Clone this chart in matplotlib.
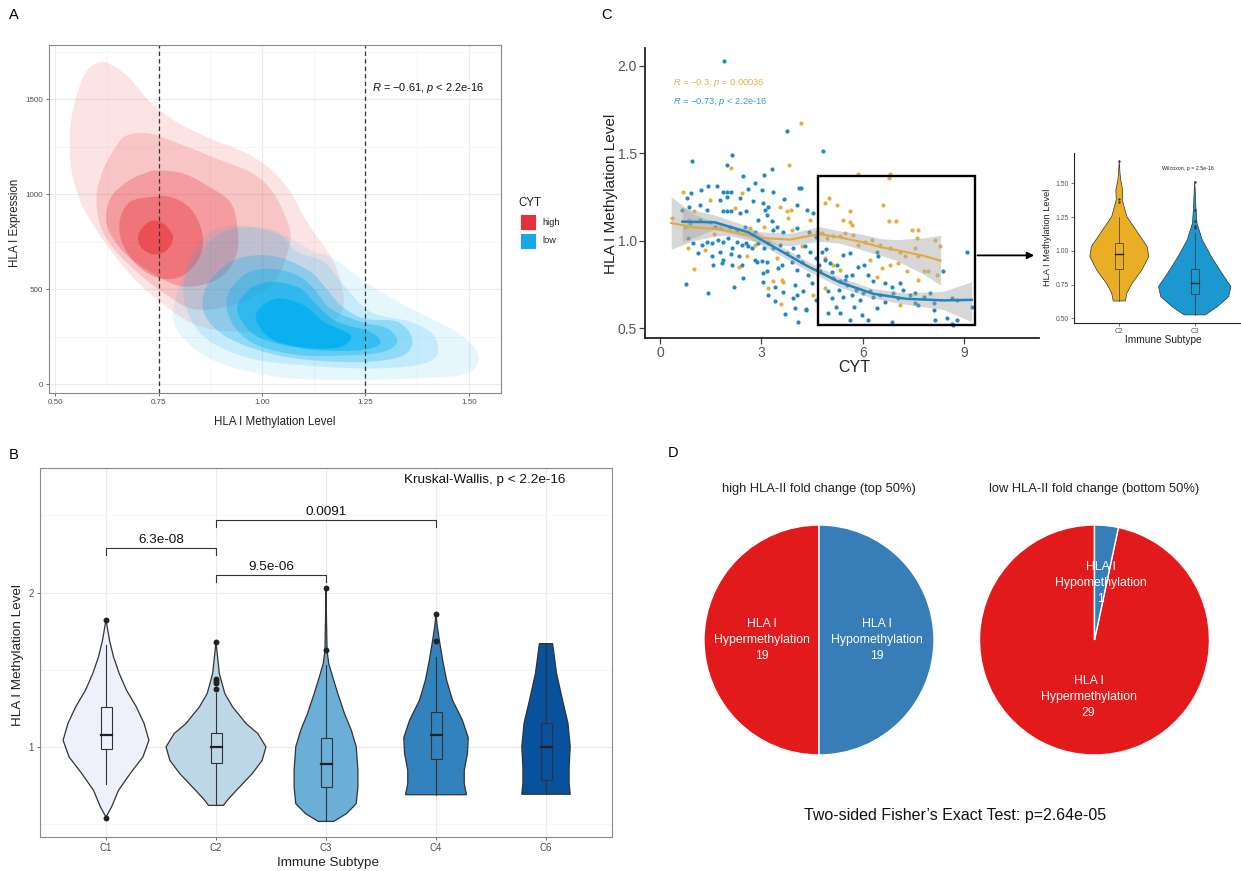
import numpy as np
import matplotlib
matplotlib.use('Agg')
import matplotlib.pyplot as plt
from matplotlib.patches import Rectangle, PathPatch
from matplotlib.path import Path

plt.rcParams['font.family'] = ['Liberation Sans', 'DejaVu Sans']
plt.rcParams['mathtext.fontset'] = 'custom'
plt.rcParams['mathtext.it'] = 'Liberation Sans:italic'
plt.rcParams['mathtext.rm'] = 'Liberation Sans'

# ---------------- data ----------------
# A: 2D density contours (methylation, expression), outer -> inner
red_1 = [(0.617, 1695), (0.673, 1625), (0.730, 1484), (0.794, 1379), (0.875, 1292), (0.956, 1222),
         (1.020, 1134), (1.069, 1011), (1.109, 853), (1.173, 643), (1.198, 450), (1.181, 345),
         (1.117, 293), (1.036, 275), (0.940, 275), (0.867, 293), (0.810, 345), (0.754, 433),
         (0.690, 556), (0.625, 731), (0.569, 924), (0.540, 1116), (0.536, 1344), (0.552, 1520), (0.577, 1651)]
red_2 = [(0.673, 1309), (0.730, 1318), (0.810, 1257), (0.891, 1186), (0.972, 1116), (1.020, 1029),
         (1.052, 906), (1.069, 766), (1.036, 556), (0.972, 450), (0.891, 398), (0.827, 398),
         (0.770, 468), (0.706, 573), (0.641, 713), (0.609, 836), (0.600, 994), (0.617, 1134), (0.649, 1257)]
red_3 = [(0.746, 1125), (0.810, 1108), (0.867, 1046), (0.923, 959), (0.940, 836), (0.940, 696),
         (0.907, 573), (0.851, 520), (0.794, 520), (0.730, 591), (0.665, 696), (0.625, 836),
         (0.633, 976), (0.673, 1064), (0.714, 1108)]
red_4 = [(0.730, 985), (0.778, 985), (0.827, 924), (0.855, 801), (0.851, 678), (0.810, 573),
         (0.754, 556), (0.698, 626), (0.661, 748), (0.657, 871), (0.681, 959)]
red_5 = [(0.730, 857), (0.762, 845), (0.785, 775), (0.770, 705), (0.738, 682), (0.707, 722), (0.702, 792)]

blue_1 = [(0.875, 801), (0.940, 836), (1.004, 810), (1.069, 766), (1.125, 696), (1.173, 661),
          (1.262, 520), (1.359, 398), (1.456, 293), (1.516, 188), (1.520, 100), (1.480, 47),
          (1.375, 30), (1.214, 21), (1.069, 30), (0.972, 65), (0.891, 117), (0.827, 205),
          (0.786, 328), (0.794, 468), (0.819, 626), (0.843, 731)]
blue_2 = [(0.810, 520), (0.851, 696), (0.907, 801), (0.972, 827), (1.036, 801), (1.085, 696),
          (1.149, 643), (1.198, 520), (1.262, 380), (1.359, 328), (1.415, 258), (1.423, 152),
          (1.375, 100), (1.254, 82), (1.093, 100), (0.972, 135), (0.875, 223), (0.827, 345)]
blue_3 = [(0.867, 520), (0.923, 643), (0.988, 678), (1.052, 661), (1.117, 591), (1.149, 520),
          (1.190, 415), (1.246, 345), (1.327, 328), (1.363, 240), (1.343, 152), (1.254, 117),
          (1.117, 126), (1.004, 170), (0.907, 258), (0.859, 380)]
blue_4 = [(0.915, 450), (0.956, 573), (1.020, 608), (1.085, 573), (1.125, 503), (1.165, 398),
          (1.238, 328), (1.303, 293), (1.327, 223), (1.294, 170), (1.214, 152), (1.093, 152),
          (0.988, 205), (0.931, 310)]
blue_5 = [(0.940, 398), (0.972, 503), (1.028, 538), (1.093, 503), (1.133, 415), (1.181, 328),
          (1.262, 275), (1.286, 214), (1.238, 179), (1.133, 179), (1.036, 214), (0.972, 275)]
blue_6 = [(0.988, 380), (1.036, 450), (1.101, 415), (1.149, 328), (1.214, 258), (1.190, 196),
          (1.117, 188), (1.036, 223), (0.996, 293)]

# B: violins per immune subtype (y, half-width) + box stats
subtypes_B = ['C1', 'C2', 'C3', 'C4', 'C6']
vy_C1 = [0.545, 0.61, 0.719, 0.827, 0.935, 1.043, 1.152, 1.26, 1.368, 1.476, 1.584, 1.69, 1.823]
vw_C1 = [0.0, 0.05, 0.114, 0.22, 0.336, 0.39, 0.346, 0.275, 0.186, 0.12, 0.068, 0.032, 0.0]
vy_C2 = [0.621, 0.66, 0.719, 0.827, 0.913, 1.0, 1.087, 1.15, 1.26, 1.346, 1.476, 1.58, 1.677]
vw_C2 = [0.068, 0.11, 0.186, 0.33, 0.42, 0.454, 0.38, 0.275, 0.15, 0.08, 0.03, 0.015, 0.0]
vy_C3 = [0.517, 0.567, 0.632, 0.74, 0.85, 1.0, 1.108, 1.216, 1.346, 1.455, 1.54, 1.62, 1.8, 2.032]
vw_C3 = [0.07, 0.186, 0.275, 0.29, 0.29, 0.275, 0.23, 0.168, 0.107, 0.06, 0.025, 0.01, 0.005, 0.0]
vy_C4 = [0.69, 0.762, 0.848, 0.957, 1.06, 1.173, 1.303, 1.433, 1.563, 1.693, 1.78, 1.859]
vw_C4 = [0.277, 0.257, 0.257, 0.286, 0.293, 0.24, 0.15, 0.096, 0.06, 0.03, 0.012, 0.0]
vy_C6 = [0.693, 0.762, 0.87, 1.0, 1.152, 1.303, 1.476, 1.669]
vw_C6 = [0.22, 0.21, 0.21, 0.22, 0.2, 0.15, 0.096, 0.06]
q1_B = [0.983, 0.896, 0.74, 0.92, 0.788]
med_B = [1.076, 0.996, 0.892, 1.076, 1.0]
q3_B = [1.26, 1.087, 1.058, 1.227, 1.152]
wlo_B = [0.76, 0.621, 0.517, 0.69, 0.693]
whi_B = [1.66, 1.35, 1.53, 1.58, 1.669]
out_B = [[1.823, 0.54], [1.677, 1.44, 1.43, 1.415, 1.375], [2.032, 1.626], [1.859, 1.686], []]
colors_B = ['#EEF0FB', '#BDD7E7', '#6BAED6', '#3182BD', '#08519C']
brackets_B = [(1, 2, 2.288, '6.3e-08'), (2, 3, 2.115, '9.5e-06'), (2, 4, 2.472, '0.0091')]

# C: scatter CYT vs methylation (C2 orange, C3 blue)
orange_x = [2.09, 3.82, 0.69, 2.42, 4.17, 5.87, 6.80, 6.78, 1.48, 3.55, 3.75, 3.87, 2.22, 0.35, 3.80,
            0.74, 1.78, 2.66, 3.08, 3.90, 0.84, 1.33, 2.81, 2.56, 3.45, 2.35, 1.01, 3.60, 3.65, 3.20,
            3.58, 5.01, 5.23, 5.62, 6.61, 5.42, 5.62, 5.67, 6.78, 6.98, 4.88, 4.64, 4.78, 4.93, 5.13,
            5.33, 5.47, 5.72, 5.87, 6.07, 6.26, 6.51, 6.80, 7.10, 7.45, 7.64, 7.59, 7.54, 7.64, 8.14,
            8.28, 7.25, 6.80, 7.05, 7.30, 6.56, 6.21, 6.41, 7.64, 7.94, 8.19, 7.81, 5.33, 5.13, 4.88,
            4.54, 4.88, 7.10, 0.85, 1.60, 2.90, 4.20, 4.45, 1.00, 3.35]
orange_y = [1.414, 1.433, 1.280, 1.274, 1.674, 1.379, 1.379, 1.357, 1.233, 1.194, 1.170, 1.175, 1.185,
            1.131, 1.128, 1.080, 1.071, 1.071, 1.080, 1.061, 0.957, 0.947, 0.975, 0.909, 0.899, 0.851,
            0.838, 0.775, 0.762, 0.728, 0.636, 1.242, 1.204, 1.170, 1.204, 1.118, 1.108, 1.090, 1.113,
            1.113, 1.214, 1.051, 1.042, 1.014, 1.023, 1.023, 1.042, 1.033, 0.975, 0.994, 1.004, 0.975,
            0.957, 0.937, 1.061, 1.061, 1.017, 0.957, 0.909, 1.004, 0.966, 0.909, 0.861, 0.871, 0.823,
            0.842, 0.889, 0.794, 0.775, 0.823, 0.804, 0.823, 0.833, 0.861, 0.899, 0.690, 0.728, 0.633,
            1.120, 1.040, 1.020, 0.970, 1.120, 1.170, 0.770]
blue_x = [1.90, 3.75, 0.96, 2.12, 1.97, 3.31, 3.09, 2.46, 2.81, 1.43, 1.68, 1.21, 0.92, 1.87, 1.97,
          2.09, 2.61, 3.01, 3.33, 4.12, 4.81, 4.17, 0.79, 0.87, 1.78, 1.99, 2.37, 2.74, 3.04, 3.11,
          3.20, 3.67, 4.04, 1.18, 1.38, 0.64, 1.85, 1.99, 2.09, 2.37, 2.54, 3.16, 2.91, 3.30, 3.47,
          0.89, 1.18, 1.48, 1.63, 2.07, 2.27, 2.51, 2.81, 3.35, 3.65, 4.04, 0.84, 0.99, 1.23, 1.38,
          1.53, 1.72, 1.85, 2.02, 2.12, 2.27, 2.42, 2.54, 2.61, 2.71, 2.91, 3.08, 3.20, 3.35, 3.55,
          3.75, 3.94, 4.09, 1.13, 1.53, 1.78, 1.87, 2.09, 2.35, 2.81, 2.88, 3.01, 3.16, 3.60, 3.90,
          4.04, 1.58, 1.82, 2.12, 2.42, 3.16, 3.04, 3.50, 2.45, 0.77, 2.20, 3.06, 3.40, 3.99, 1.41,
          3.20, 3.65, 4.04, 3.40, 3.94, 3.99, 4.09, 4.52, 4.34, 4.29, 4.44, 4.19, 4.39, 4.24, 4.32,
          4.78, 4.88, 4.73, 5.03, 5.23, 5.42, 5.62, 5.13, 5.33, 5.47, 5.52, 5.67, 5.87, 6.02, 6.16,
          6.31, 6.46, 6.41, 6.66, 6.85, 7.10, 4.98, 5.08, 5.42, 5.67, 5.92, 6.21, 6.51, 6.66, 7.40,
          7.54, 7.54, 8.09, 8.63, 8.78, 8.36, 8.09, 8.48, 8.14, 6.85, 5.97, 5.62, 5.33, 4.98, 6.16,
          6.41, 8.78, 8.68, 7.64, 7.05, 9.07, 9.22, 8.63, 4.60, 4.70, 4.90, 5.10, 5.30, 5.50, 5.80,
          6.00, 6.30, 4.50, 4.60, 5.20, 5.75, 6.90, 7.20, 7.80, 8.00, 4.40, 4.60, 3.71, 4.33]
blue_y = [2.027, 1.623, 1.455, 1.488, 1.433, 1.408, 1.374, 1.370, 1.331, 1.313, 1.309, 1.286, 1.274,
          1.280, 1.275, 1.280, 1.294, 1.290, 1.280, 1.300, 1.509, 1.300, 1.242, 1.189, 1.233, 1.246,
          1.242, 1.223, 1.214, 1.175, 1.194, 1.238, 1.204, 1.204, 1.175, 1.175, 1.166, 1.170, 1.170,
          1.157, 1.170, 1.147, 1.118, 1.113, 1.080, 1.099, 1.118, 1.108, 1.080, 1.080, 1.061, 1.080,
          1.051, 1.061, 1.051, 1.071, 1.014, 0.985, 0.975, 0.994, 0.985, 1.004, 0.994, 1.014, 0.957,
          0.994, 0.975, 0.985, 0.966, 0.957, 0.985, 0.957, 0.985, 0.957, 0.975, 0.928, 0.957, 0.909,
          0.928, 0.909, 0.937, 0.889, 0.922, 0.909, 0.889, 0.880, 0.884, 0.880, 0.861, 0.880, 0.833,
          0.861, 0.871, 0.861, 0.861, 0.823, 0.814, 0.842, 0.785, 0.751, 0.737, 0.762, 0.737, 0.747,
          0.699, 0.686, 0.705, 0.690, 0.655, 0.671, 0.617, 0.534, 1.157, 1.175, 0.966, 0.937, 0.880,
          0.804, 0.709, 0.604, 0.937, 0.889, 0.823, 0.871, 0.861, 0.918, 0.928, 0.785, 0.766, 0.775,
          0.747, 0.804, 0.851, 0.861, 0.804, 0.766, 0.909, 0.937, 0.757, 0.737, 0.757, 0.709, 0.671,
          0.680, 0.690, 0.661, 0.709, 0.690, 0.651, 0.690, 0.699, 0.642, 0.642, 0.671, 0.661, 0.823,
          0.604, 0.557, 0.547, 0.537, 0.575, 0.547, 0.585, 0.585, 0.547, 0.614, 0.547, 0.518, 0.633,
          0.671, 0.933, 0.620, 0.525, 0.900, 0.860, 0.950, 0.820, 0.720, 0.800, 0.720, 0.700, 0.680,
          0.760, 0.660, 0.620, 0.620, 0.700, 0.720, 0.680, 0.700, 1.050, 1.020, 0.580, 0.610]
# loess fits with 95% bands
fitO_x = [0.33, 1.0, 1.62, 2.0, 3.0, 3.84, 4.70, 5.31, 6.0, 6.54, 7.0, 7.77, 8.30]
fitO_y = [1.100, 1.075, 1.066, 1.055, 1.015, 1.005, 1.037, 1.018, 0.990, 0.961, 0.945, 0.914, 0.885]
fitO_lo = [0.950, 1.000, 1.025, 1.030, 0.985, 0.970, 0.995, 0.985, 0.945, 0.915, 0.885, 0.810, 0.745]
fitO_hi = [1.250, 1.150, 1.105, 1.085, 1.050, 1.040, 1.080, 1.055, 1.035, 1.010, 1.005, 1.015, 1.030]
fitB_x = [0.66, 1.62, 2.61, 3.47, 4.33, 5.31, 6.30, 7.28, 8.39, 9.22]
fitB_y = [1.108, 1.104, 1.047, 0.952, 0.857, 0.762, 0.696, 0.667, 0.658, 0.661]
fitB_lo = [0.990, 1.065, 1.015, 0.925, 0.830, 0.735, 0.670, 0.635, 0.605, 0.535]
fitB_hi = [1.190, 1.145, 1.080, 0.980, 0.885, 0.790, 0.725, 0.700, 0.710, 0.765]

# C inset violins
subtypes_I = ['C2', 'C3']
vy_I2 = [0.628, 0.685, 0.759, 0.858, 0.957, 1.03, 1.13, 1.253, 1.377, 1.45, 1.52, 1.574, 1.668]
vw_I2 = [0.08, 0.1, 0.17, 0.3, 0.39, 0.37, 0.25, 0.1, 0.04, 0.045, 0.02, 0.01, 0.0]
vy_I3 = [0.525, 0.586, 0.66, 0.735, 0.833, 0.957, 1.08, 1.204, 1.327, 1.43, 1.512]
vw_I3 = [0.14, 0.3, 0.45, 0.48, 0.36, 0.22, 0.1, 0.03, 0.015, 0.008, 0.0]
q1_I = [0.863, 0.678]
med_I = [0.977, 0.764]
q3_I = [1.06, 0.863]
wlo_I = [0.628, 0.525]
whi_I = [1.248, 1.13]
out_I = [[1.668, 1.38, 1.364], [1.512, 1.30, 1.22, 1.18, 1.165]]
colors_I = ['#E9AE24', '#1B98CF']

# D: pie counts
pie_labels = ['HLA I\nHypermethylation', 'HLA I\nHypomethylation']
pie_high = [19, 19]
pie_low = [29, 1]
pie_colors = ['#E31A1C', '#377EB8']

# ---------------- figure ----------------
W, H = 1241, 871
fig = plt.figure(figsize=(W / 100, H / 100), dpi=100)


def box(l, t, r, b):
    return fig.add_axes([l / W, 1 - b / H, (r - l) / W, (b - t) / H])


def ftext(x, y, s, **kw):
    kw.setdefault('ha', 'center')
    kw.setdefault('va', 'center')
    fig.text(x / W, 1 - y / H, s, **kw)


def smooth_outline(pts, **kw):
    # closed Catmull-Rom outline through the read contour vertices, drawn as bezier path
    P = np.asarray(pts, float)
    n = len(P)
    verts = [P[0]]
    codes = [Path.MOVETO]
    for i in range(n):
        p0, p1, p2, p3 = P[i - 1], P[i], P[(i + 1) % n], P[(i + 2) % n]
        verts += [p1 + (p2 - p0) / 6, p2 - (p3 - p1) / 6, p2]
        codes += [Path.CURVE4] * 3
    return PathPatch(Path(verts, codes), **kw)


def violin(ax, c, ys, hws, color, lw):
    ys = np.asarray(ys)
    hw = np.asarray(hws)
    xs = np.concatenate([c - hw, (c + hw)[::-1]])
    yy = np.concatenate([ys, ys[::-1]])
    ax.fill(xs, yy, facecolor=color, edgecolor='#333333', lw=lw, zorder=2)


def boxstat(ax, c, q1, med, q3, lo, hi, width, lw):
    ax.plot([c, c], [lo, q1], color='#333333', lw=lw, zorder=3)
    ax.plot([c, c], [q3, hi], color='#333333', lw=lw, zorder=3)
    ax.add_patch(Rectangle((c - width / 2, q1), width, q3 - q1, fill=False,
                           ec='#333333', lw=lw, zorder=3))
    ax.plot([c - width / 2, c + width / 2], [med, med], color='#222222', lw=lw * 2, zorder=3)


def bw_theme(ax, lsize):
    for s in ax.spines.values():
        s.set_color('#8A8A8A')
        s.set_linewidth(0.8)
    ax.tick_params(length=2.5, width=0.6, color='#555555', labelsize=lsize,
                   labelcolor='#4D4D4D', pad=2)
    ax.tick_params(which='minor', length=0)
    ax.grid(which='major', color='#EBEBEB', lw=0.8)
    ax.grid(which='minor', color='#F3F3F3', lw=0.5)
    ax.set_axisbelow(True)


# ---- A ----
axA = box(49, 45, 501, 393)
axA.set_xlim(0.485, 1.578)
axA.set_ylim(-47, 1785)
axA.set_xticks([0.5, 0.75, 1.0, 1.25, 1.5])
axA.set_xticklabels(['0.50', '0.75', '1.00', '1.25', '1.50'])
axA.set_xticks([0.625, 0.875, 1.125, 1.375], minor=True)
axA.set_yticks([0, 500, 1000, 1500])
axA.set_yticks([250, 750, 1250, 1750], minor=True)
bw_theme(axA, 5.8)

red_alpha = [0.12, 0.16, 0.25, 0.33, 0.47]
blue_alpha = [0.10, 0.14, 0.27, 0.32, 0.47, 0.78]
RED = '#E8262D'
BLUE = '#00AEEF'
for poly, a in zip([red_1, red_2, red_3, red_4, red_5], red_alpha):
    axA.add_patch(smooth_outline(poly, facecolor=RED, alpha=a, lw=0))
for poly, a in zip([blue_1, blue_2, blue_3, blue_4, blue_5, blue_6], blue_alpha):
    axA.add_patch(smooth_outline(poly, facecolor=BLUE, alpha=a, lw=0))
for xv in [0.75, 1.25]:
    axA.axvline(xv, color='#333333', lw=0.9, ls=(0, (3.5, 2.5)))
axA.text(1.265, 1560, r'$R$ = $-$0.61, $p$ < 2.2e-16', fontsize=7.9, ha='left', va='center',
         color='#111111')

ftext(14, 15, 'A', fontsize=10.5)
ftext(275, 422, 'HLA I Methylation Level', fontsize=8.3, color='#222222')
ftext(15, 223, 'HLA I Expression', fontsize=8.3, rotation=90, color='#222222')
# legend
ftext(518, 203, 'CYT', fontsize=8.3, ha='left', color='#222222')
for i, (lab, col) in enumerate([('high', '#E5313A'), ('low', '#1BA7E4')]):
    y0 = 214.5 + i * 18
    fig.patches.append(Rectangle((519.5 / W, 1 - (y0 + 16) / H), 16 / W, 16 / H,
                                 transform=fig.transFigure, facecolor=col, edgecolor='white', lw=0.6))
    ftext(542, y0 + 8, lab, fontsize=6.6, ha='left', color='#222222')

# ---- B ----
axB = box(40, 468, 612, 837)
axB.set_xlim(0.4, 5.6)
axB.set_ylim(0.416, 2.807)
xB = np.arange(1, 6)
axB.set_xticks(xB)
axB.set_xticklabels(subtypes_B)
axB.set_yticks([1, 2])
axB.set_yticks([0.5, 1.5, 2.5], minor=True)
bw_theme(axB, 7)
vys = [vy_C1, vy_C2, vy_C3, vy_C4, vy_C6]
vws = [vw_C1, vw_C2, vw_C3, vw_C4, vw_C6]
for i, c in enumerate(xB):
    violin(axB, c, vys[i], vws[i], colors_B[i], 0.9)
    boxstat(axB, c, q1_B[i], med_B[i], q3_B[i], wlo_B[i], whi_B[i], 0.1, 0.8)
    if out_B[i]:
        axB.scatter([c] * len(out_B[i]), out_B[i], s=18, color='#222222', zorder=4, lw=0)
for a, b, yb, lab in brackets_B:
    axB.plot([a, a, b, b], [yb - 0.045, yb, yb, yb - 0.045], color='#333333', lw=0.8)
    axB.text((a + b) / 2, yb + 0.012, lab, ha='center', va='bottom', fontsize=9.7, color='#111111')
axB.text(4.44, 2.732, 'Kruskal-Wallis, p < 2.2e-16', ha='center', va='center', fontsize=9.7,
         color='#111111')
ftext(14, 455, 'B', fontsize=10.5)
ftext(328, 863, 'Immune Subtype', fontsize=9.7, color='#222222')
ftext(18, 655, 'HLA I Methylation Level', fontsize=9.7, rotation=90, color='#222222')

# ---- C ----
axC = box(645, 48, 1039, 338)
axC.set_xlim(-0.444, 11.21)
axC.set_ylim(0.443, 2.10)
axC.spines['top'].set_visible(False)
axC.spines['right'].set_visible(False)
for s in ['left', 'bottom']:
    axC.spines[s].set_color('#222222')
    axC.spines[s].set_linewidth(1.3)
axC.set_xticks([0, 3, 6, 9])
axC.set_yticks([0.5, 1.0, 1.5, 2.0])
axC.set_yticklabels(['0.5', '1.0', '1.5', '2.0'])
axC.tick_params(length=4, width=0.9, color='#444444', labelsize=10, labelcolor='#555555', pad=2)
axC.scatter(orange_x, orange_y, s=9, color='#E8AE3C', lw=0, zorder=2)
axC.scatter(blue_x, blue_y, s=9, color='#1F89C0', lw=0, zorder=2)
axC.fill_between(fitO_x, fitO_lo, fitO_hi, color='#A8A8A8', alpha=0.45, lw=0, zorder=3)
axC.fill_between(fitB_x, fitB_lo, fitB_hi, color='#A8A8A8', alpha=0.45, lw=0, zorder=3)
axC.plot(fitO_x, fitO_y, color='#E3A93A', lw=1.5, zorder=4)
axC.plot(fitB_x, fitB_y, color='#2584BB', lw=1.8, zorder=4)
axC.text(0.385, 1.90, r'$R$ = $-$0.3, $p$ = 0.00036', fontsize=6.7, color='#E8B04A',
         ha='left', va='center')
axC.text(0.385, 1.794, r'$R$ = $-$0.73, $p$ < 2.2e-16', fontsize=6.7, color='#3C9AD0',
         ha='left', va='center')
axC.add_patch(Rectangle((4.67, 0.519), 4.64, 0.849, fill=False, ec='black', lw=1.7, zorder=5,
                        clip_on=False))
axC.annotate('', xy=(11.15, 0.915), xytext=(9.31, 0.915),
             arrowprops=dict(arrowstyle='-|>', color='black', lw=1.3, mutation_scale=10),
             annotation_clip=False, zorder=5)
ftext(606, 15, 'C', fontsize=10.5)
ftext(611, 194, 'HLA I Methylation Level', fontsize=11, rotation=90, color='#222222')
ftext(854, 367, 'CYT', fontsize=11.5, color='#222222')

# inset
axI = box(1074, 153, 1240, 323)
axI.set_xlim(0.4, 2.6)
axI.set_ylim(0.465, 1.724)
axI.spines['top'].set_visible(False)
axI.spines['right'].set_visible(False)
for s in ['left', 'bottom']:
    axI.spines[s].set_color('#222222')
    axI.spines[s].set_linewidth(0.8)
axI.set_xticks([1, 2])
axI.set_xticklabels(subtypes_I)
axI.set_yticks([0.5, 0.75, 1.0, 1.25, 1.5])
axI.set_yticklabels(['0.50', '0.75', '1.00', '1.25', '1.50'])
axI.tick_params(length=2, width=0.5, color='#444444', labelsize=4.9, labelcolor='#555555', pad=1.5)
for i, (vy, vw) in enumerate([(vy_I2, vw_I2), (vy_I3, vw_I3)]):
    c = i + 1
    violin(axI, c, vy, vw, colors_I[i], 0.5)
    boxstat(axI, c, q1_I[i], med_I[i], q3_I[i], wlo_I[i], whi_I[i], 0.108, 0.5)
    axI.scatter([c] * len(out_I[i]), out_I[i], s=3, color='#333333', zorder=4, lw=0)
axI.text(1.91, 1.606, 'Wilcoxon, p = 2.5e-16', fontsize=3.8, ha='center', va='center',
         color='#222222')
ftext(1048, 237, 'HLA I Methylation Level', fontsize=6.7, rotation=90, color='#222222')
ftext(1163, 340, 'Immune Subtype', fontsize=7.3, color='#222222')

# ---- D ----
def pie(cx, cy, vals):
    r = 115.0
    s = r * 1.05
    ax = box(cx - s, cy - s, cx + s, cy + s)
    labs = [l + '\n' + str(v) for l, v in zip(pie_labels, vals)]
    wedges, texts = ax.pie(vals, colors=pie_colors, labels=labs, startangle=90,
                           labeldistance=0.5,
                           wedgeprops=dict(edgecolor='white', linewidth=1.0),
                           textprops=dict(color='white', fontsize=8.8, linespacing=1.45))
    for t in texts:
        t.set_ha('center')
        t.set_va('center')
    ax.set_xlim(-1.05, 1.05)
    ax.set_ylim(-1.05, 1.05)
    return ax


pie(819, 640, pie_high)
pie(1094.5, 640, pie_low)
ftext(673, 453, 'D', fontsize=10.5)
ftext(819, 489, 'high HLA-II fold change (top 50%)', fontsize=9.3, color='#222222')
ftext(1094, 489, 'low HLA-II fold change (bottom 50%)', fontsize=9.3, color='#222222')
ftext(955, 815, 'Two-sided Fisher\u2019s Exact Test: p=2.64e-05', fontsize=11.5, color='#111111')

fig.savefig('out.png', dpi=100)
